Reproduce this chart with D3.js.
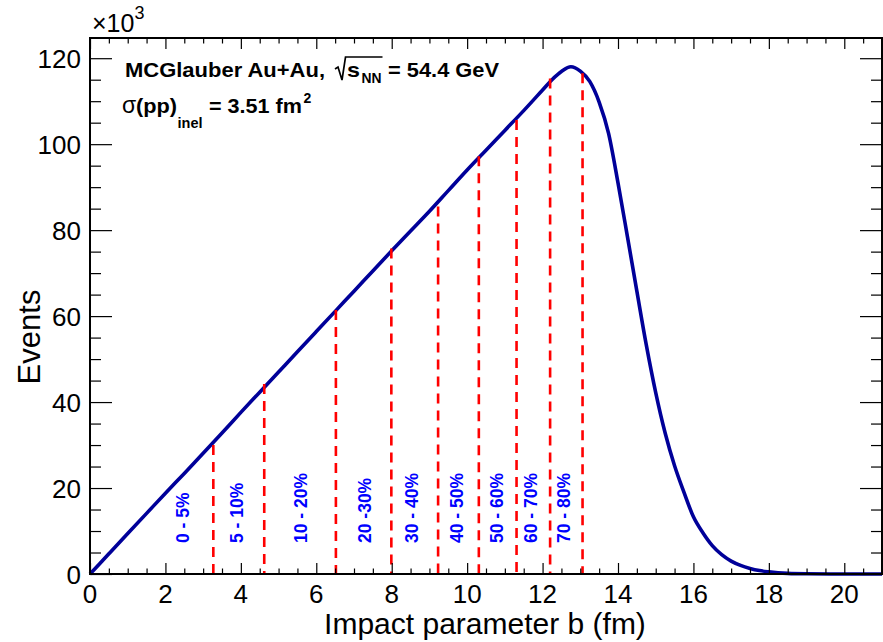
<!DOCTYPE html>
<html>
<head>
<meta charset="utf-8">
<script src="https://cdn.jsdelivr.net/npm/d3@7"></script>
<style>
  html, body { margin: 0; padding: 0; background: #fff; }
  svg { display: block; }
  text { font-family: "Liberation Sans", Arial, Helvetica, sans-serif; }
</style>
</head>
<body>
<svg id="chart" width="883" height="642"></svg>
<script>
// ---------------- data ----------------
const bValues = [0, 0.5, 1, 1.5, 2, 2.5, 3, 3.5, 4, 4.5, 5, 5.5, 6, 6.5, 7, 7.5, 8, 8.5, 9, 9.5,
  10, 10.5, 11, 11.5, 12, 12.25, 12.5, 12.75, 13, 13.25, 13.5, 13.75, 14, 14.25, 14.5, 14.75,
  15, 15.25, 15.5, 15.75, 16, 16.25, 16.5, 16.75, 17, 17.25, 17.5, 17.75, 18, 18.5, 19, 20, 21];
const eventsK = [0, 4.7, 9.4, 14.1, 18.8, 23.4, 28.1, 32.8, 37.6, 42.3, 47.0, 51.7, 56.4, 61.1, 65.8, 70.5, 75.2, 79.8, 84.4, 89.2,
  94.0, 98.6, 103.2, 107.8, 112.6, 115.0, 116.9, 118.0, 117.0, 114.6, 109.8, 102.5, 91.0, 78.5, 65.8, 53.3,
  42.2, 32.8, 25.2, 19.0, 13.3, 9.6, 6.6, 4.5, 3.0, 2.0, 1.3, 0.8, 0.5, 0.15, 0.05, 0, 0];

const cutB   = [3.27, 4.62, 6.52, 7.99, 9.23, 10.31, 11.31, 12.2, 13.06];
const cutTop = [30.0, 44.2, 61.4, 75.7, 85.5, 97.2, 105.6, 115.3, 116.5];

const classLabels = ["0 - 5%", "5 - 10%", "10 - 20%", "20 -30%", "30 - 40%", "40 - 50%", "50 - 60%", "60 - 70%", "70 - 80%"];
const classLabelB = [2.46, 3.89, 5.59, 7.28, 8.55, 9.72, 10.78, 11.68, 12.58];

const xTicks = [0, 2, 4, 6, 8, 10, 12, 14, 16, 18, 20];
const yTicks = [0, 20, 40, 60, 80, 100, 120];

// ---------------- layout ----------------
const svg = d3.select("#chart");
const L = 90, R = 882, T = 38, B = 574;
const x = d3.scaleLinear().domain([0, 21]).range([L, R]);
const y = d3.scaleLinear().domain([0, 124.7]).range([B, T]);

const g = svg.append("g");

// curve
const line = d3.line().x((d, i) => x(bValues[i])).y(d => y(d)).curve(d3.curveMonotoneX);
g.append("path")
  .datum(eventsK)
  .attr("d", line)
  .attr("fill", "none")
  .attr("stroke", "#000099")
  .attr("stroke-width", 3.6)
  .attr("stroke-linejoin", "round");

// dashed centrality lines
g.selectAll("line.cut").data(cutB).join("line")
  .attr("class", "cut")
  .attr("x1", d => x(d)).attr("x2", d => x(d))
  .attr("y1", (d, i) => y(cutTop[i])).attr("y2", B)
  .attr("stroke", "#ff0000")
  .attr("stroke-width", 2.6)
  .attr("stroke-dasharray", "10,7");

// class labels
g.selectAll("text.cls").data(classLabels).join("text")
  .attr("class", "cls")
  .attr("transform", (d, i) => `translate(${x(classLabelB[i]) + 6},543) rotate(-90)`)
  .attr("text-anchor", "start")
  .attr("font-size", 17.5)
  .attr("font-weight", "bold")
  .attr("fill", "#0000ff")
  .text(d => d);

// axes (ROOT style ticks inside frame)
const xAxisB = d3.axisTop(x).tickValues(xTicks).tickSize(11).tickFormat("");
const xMinor = d3.range(0, 21.01, 0.5).filter(v => v % 2 !== 0);
const xAxisBm = d3.axisTop(x).tickValues(xMinor).tickSize(5.5).tickFormat("");
const xAxisT = d3.axisBottom(x).tickValues(xTicks).tickSize(11).tickFormat("");
const xAxisTm = d3.axisBottom(x).tickValues(xMinor).tickSize(5.5).tickFormat("");
const yMinor = d3.range(0, 124.7, 5).filter(v => v % 20 !== 0);
const yAxisL = d3.axisRight(y).tickValues(yTicks).tickSize(22).tickFormat("");
const yAxisLm = d3.axisRight(y).tickValues(yMinor).tickSize(11).tickFormat("");
const yAxisR = d3.axisLeft(y).tickValues(yTicks).tickSize(22).tickFormat("");
const yAxisRm = d3.axisLeft(y).tickValues(yMinor).tickSize(11).tickFormat("");

function addAxis(ax, tr) {
  const a = g.append("g").attr("transform", tr).call(ax);
  a.select(".domain").remove();
  a.selectAll(".tick line").attr("stroke", "#000").attr("stroke-width", 1.2);
  return a;
}
addAxis(xAxisB, `translate(0,${B})`);
addAxis(xAxisBm, `translate(0,${B})`);
addAxis(xAxisT, `translate(0,${T})`);
addAxis(xAxisTm, `translate(0,${T})`);
addAxis(yAxisL, `translate(${L},0)`);
addAxis(yAxisLm, `translate(${L},0)`);
addAxis(yAxisR, `translate(${R},0)`);
addAxis(yAxisRm, `translate(${R},0)`);

// frame
g.append("rect").attr("x", L).attr("y", T).attr("width", R - L).attr("height", B - T)
  .attr("fill", "none").attr("stroke", "#000").attr("stroke-width", 2);

// tick labels
g.selectAll("text.xl").data(xTicks).join("text")
  .attr("class", "xl")
  .attr("x", d => x(d)).attr("y", 603)
  .attr("text-anchor", "middle").attr("font-size", 26)
  .text(d => d);
g.selectAll("text.yl").data(yTicks).join("text")
  .attr("class", "yl")
  .attr("x", 81).attr("y", d => y(d) + 9.5)
  .attr("text-anchor", "end").attr("font-size", 26)
  .text(d => d);

// axis titles
g.append("text").attr("x", (L + R) / 2 - 1).attr("y", 634)
  .attr("text-anchor", "middle").attr("font-size", 30)
  .text("Impact parameter b (fm)");
g.append("text").attr("transform", "translate(40,337) rotate(-90)")
  .attr("text-anchor", "middle").attr("font-size", 31)
  .text("Events");

// x10^3
const mult = g.append("text").attr("x", 92).attr("y", 32).attr("font-size", 25);
mult.append("tspan").text("×10");
mult.append("tspan").attr("dy", -13).attr("font-size", 18).text("3");

function piece(xp, yp, str, opts) {
  const t = g.append("text").attr("x", xp).attr("y", yp)
    .attr("font-size", opts.size).attr("font-weight", opts.weight || "bold")
    .attr("font-family", opts.family || null)
    .text(str);
  if (opts.len) t.attr("textLength", opts.len).attr("lengthAdjust", "spacingAndGlyphs");
  return xp + (opts.len || t.node().getComputedTextLength());
}

// line 1
const by1 = 77;
piece(125, by1, "MCGlauber Au+Au,", {size: 20.5, len: 200});
const radX = 335;
const sEnd = piece(347, by1, "s", {size: 21, len: 13});
const nnEnd = piece(sEnd + 1.5, by1 + 6, "NN", {size: 14, len: 20});
g.append("path")
  .attr("d", `M${radX},${by1 - 8} L${radX + 3},${by1 - 10} L${radX + 7},${by1 + 3} L${radX + 10.5},${by1 - 20} L${nnEnd + 1},${by1 - 20}`)
  .attr("fill", "none").attr("stroke", "#000").attr("stroke-width", 1.7);
piece(388, by1, "= 54.4 GeV", {size: 20.5, len: 111});

// line 2
const by2 = 113;
piece(122, by2, "σ", {size: 23, weight: "normal", family: "'Liberation Serif', 'DejaVu Serif', serif"});
piece(136, by2, "(pp)", {size: 20.5, len: 41});
piece(177.5, by2 + 15, "inel", {size: 14, len: 25});
const fmEnd = piece(209, by2, "= 3.51 fm", {size: 20.5, len: 93});
piece(fmEnd + 1.5, by2 - 10, "2", {size: 14});
</script>
</body>
</html>
